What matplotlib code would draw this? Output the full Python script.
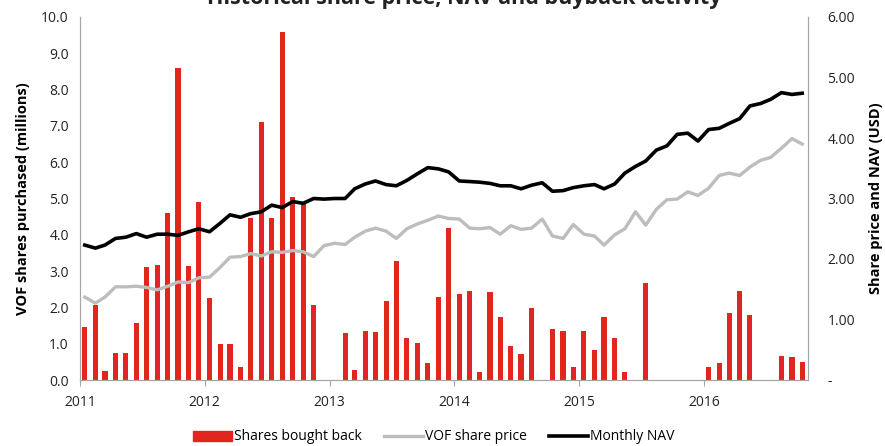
#! /usr/bin/env python3

import matplotlib
matplotlib.use("Agg")
import matplotlib.pyplot as plt
import matplotlib.dates as mdates
from matplotlib.patches import Patch
from matplotlib.lines import Line2D
import numpy as np
import pandas as pd

plt.rcParams['font.family'] = ['Open Sans', 'DejaVu Sans']

# monthly data, Jan 2011 - Oct 2016
months = pd.date_range("2011-01-01", periods=70, freq="MS") + pd.Timedelta(days=14)

buyback = [1.46, 2.07, 0.25, 0.75, 0.75, 1.57, 3.12, 3.18, 4.60, 8.60,
           3.15, 4.90, 2.25, 1.00, 1.00, 0.35, 4.45, 7.10, 4.45, 9.60,
           5.03, 4.91, 2.07, 0.00, 0.00, 1.30, 0.28, 1.35, 1.33, 2.18,
           3.27, 1.17, 1.03, 0.47, 2.28, 4.20, 2.37, 2.46, 0.21, 2.43,
           1.73, 0.95, 0.73, 1.97, 0.00, 1.41, 1.35, 0.37, 1.35, 0.83,
           1.73, 1.17, 0.21, 0.00, 2.68, 0.00, 0.00, 0.00, 0.00, 0.00,
           0.37, 0.46, 1.84, 2.46, 1.78, 0.00, 0.00, 0.67, 0.64, 0.49]

share_price = [1.37, 1.27, 1.37, 1.54, 1.54, 1.55, 1.53, 1.49, 1.55, 1.62,
               1.61, 1.69, 1.70, 1.86, 2.03, 2.04, 2.09, 2.05, 2.12, 2.11,
               2.14, 2.12, 2.04, 2.22, 2.26, 2.24, 2.36, 2.46, 2.51, 2.46,
               2.34, 2.50, 2.58, 2.64, 2.71, 2.67, 2.66, 2.51, 2.50, 2.52,
               2.41, 2.55, 2.49, 2.51, 2.66, 2.38, 2.34, 2.57, 2.41, 2.38,
               2.23, 2.40, 2.50, 2.78, 2.56, 2.82, 2.98, 2.99, 3.11, 3.05,
               3.17, 3.38, 3.42, 3.38, 3.52, 3.63, 3.68, 3.83, 3.99, 3.90]

nav = [2.23, 2.18, 2.23, 2.34, 2.36, 2.42, 2.36, 2.41, 2.41, 2.39,
       2.45, 2.50, 2.45, 2.59, 2.73, 2.69, 2.75, 2.78, 2.89, 2.85,
       2.95, 2.92, 3.00, 2.99, 3.00, 3.00, 3.16, 3.24, 3.29, 3.23,
       3.21, 3.30, 3.41, 3.51, 3.49, 3.44, 3.29, 3.28, 3.27, 3.25,
       3.21, 3.21, 3.16, 3.22, 3.26, 3.12, 3.13, 3.18, 3.21, 3.23,
       3.16, 3.24, 3.42, 3.53, 3.62, 3.80, 3.87, 4.06, 4.08, 3.95,
       4.14, 4.16, 4.24, 4.32, 4.53, 4.57, 4.64, 4.75, 4.72, 4.74]

red = "#E0261F"
grey = "#BDBDBD"
axis_grey = "#A6A6A6"

fig = plt.figure(figsize=(8.85, 4.46), dpi=100)
ax = fig.add_axes([80/885, 1 - 380/446, 728/885, 363/446])
ax2 = ax.twinx()

ax.bar(months, buyback, width=15, color=red, zorder=2)
ax2.plot(months, share_price, color=grey, lw=2.4, solid_joinstyle='round')
ax2.plot(months, nav, color="black", lw=2.6, solid_joinstyle='round')

ax.set_xlim(pd.Timestamp("2011-01-01"), pd.Timestamp("2016-11-01"))
ax.set_ylim(0, 10)
ax2.set_ylim(0, 6)

ax.set_yticks(np.arange(0, 10.5, 1.0))
ax.set_yticklabels(["%.1f" % v for v in np.arange(0, 10.5, 1.0)])
ax2.set_yticks(np.arange(0, 7, 1))
ax2.set_yticklabels(["-"] + ["%.2f" % v for v in range(1, 7)])

ax.xaxis.set_major_locator(mdates.YearLocator())
ax.xaxis.set_major_formatter(mdates.DateFormatter("%Y"))

for a in (ax, ax2):
    for s in a.spines.values():
        s.set_color(axis_grey)
    a.spines['top'].set_visible(False)
    a.tick_params(labelsize=10, colors="#222222")
ax.tick_params(axis='y', length=0, pad=8)
ax2.tick_params(axis='y', length=0, pad=14)
ax.tick_params(axis='x', length=4, color=axis_grey, pad=7)

ax.set_ylabel("VOF shares purchased (millions)", fontsize=10.5, fontweight='bold', labelpad=8)
ax2.set_ylabel("Share price and NAV (USD)", fontsize=10.5, fontweight='bold', labelpad=10)

fig.text(464/885, 1 - 4/446, "Historical share price, NAV and buyback activity",
         ha='center', va='baseline', fontsize=15.5, fontweight='bold', color="#222222")

handles = [Patch(color=red), Line2D([], [], color=grey, lw=2.4), Line2D([], [], color="black", lw=2.6)]
labels = ["Shares bought back", "VOF share price", "Monthly NAV"]
fig.legend(handles, labels, loc='center', bbox_to_anchor=(434/885, 1 - 437/446), ncol=3,
           frameon=False, fontsize=10, handlelength=2.8, handleheight=0.75,
           handletextpad=0.15, columnspacing=1.6)

fig.savefig("out.png", dpi=100)
